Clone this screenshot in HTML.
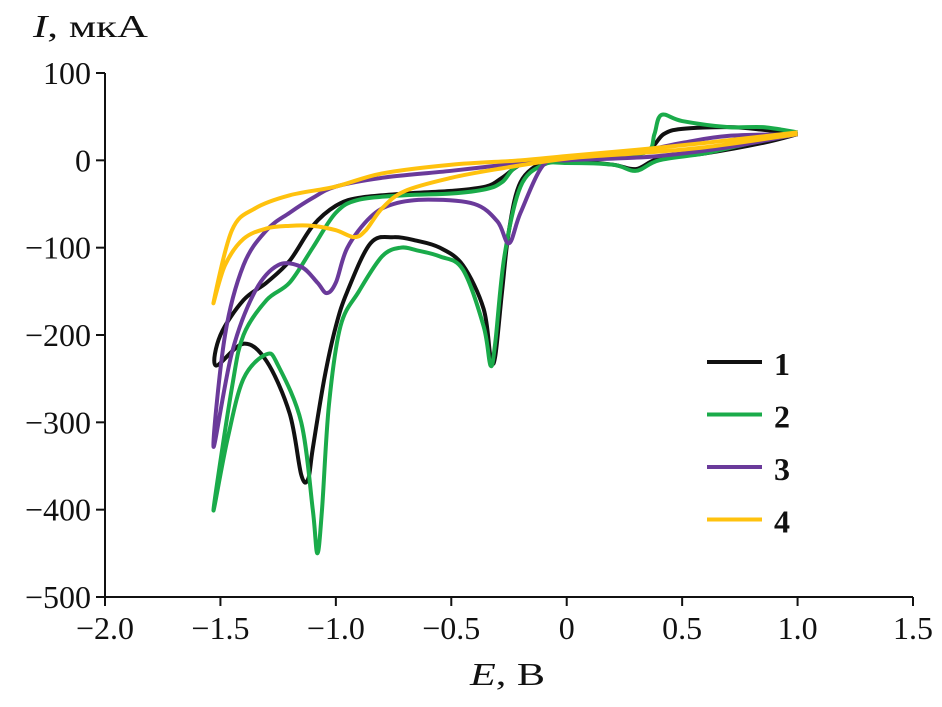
<!DOCTYPE html>
<html><head><meta charset="utf-8"><style>
body{margin:0;background:#fff}
svg text{font-family:"Liberation Serif",serif;font-size:32px;fill:#111}
</style></head><body>
<svg width="942" height="702">
<g id="axes"></g><g id="curves"></g><g id="legend"></g>
</svg>
<script>
const xTicks=[-2.0,-1.5,-1.0,-0.5,0,0.5,1.0,1.5];
const xTickLabels=["−2.0","−1.5","−1.0","−0.5","0","0.5","1.0","1.5"];
const yTicks=[100,0,-100,-200,-300,-400,-500];
const yTickLabels=["100","0","−100","−200","−300","−400","−500"];
const seriesNames=["1","2","3","4"];
const seriesColors=["#111111","#1aab4a","#6a3a9a","#ffc20e"];
const curve1=[[1.0,30],[0.85,20],[0.6,8],[0.4,2],[0.3,-10],[0.2,-5],[0.0,0],[-0.1,-2],[-0.2,-25],[-0.25,-80],[-0.28,-150],[-0.31,-225],[-0.33,-225],[-0.36,-170],[-0.45,-120],[-0.55,-100],[-0.65,-92],[-0.75,-88],[-0.85,-95],[-0.95,-150],[-1.0,-190],[-1.05,-250],[-1.1,-330],[-1.12,-365],[-1.15,-360],[-1.2,-290],[-1.3,-230],[-1.4,-210],[-1.52,-235],[-1.5,-200],[-1.4,-160],[-1.3,-140],[-1.2,-115],[-1.1,-75],[-1.0,-52],[-0.9,-43],[-0.7,-38],[-0.5,-35],[-0.35,-30],[-0.28,-20],[-0.2,-5],[-0.1,0],[0,3],[0.2,8],[0.35,12],[0.42,30],[0.5,36],[0.7,38],[0.85,35],[1.0,30]];
const curve2=[[1.0,32],[0.8,20],[0.6,8],[0.4,0],[0.3,-12],[0.2,-5],[0,-3],[-0.1,-5],[-0.2,-30],[-0.27,-110],[-0.31,-210],[-0.33,-235],[-0.36,-190],[-0.45,-125],[-0.55,-110],[-0.65,-103],[-0.72,-100],[-0.8,-110],[-0.9,-150],[-0.98,-190],[-1.03,-280],[-1.06,-400],[-1.08,-450],[-1.1,-400],[-1.15,-300],[-1.25,-235],[-1.3,-222],[-1.4,-250],[-1.47,-320],[-1.53,-400],[-1.45,-260],[-1.4,-200],[-1.3,-160],[-1.2,-140],[-1.1,-100],[-1.0,-60],[-0.9,-45],[-0.7,-40],[-0.5,-38],[-0.35,-33],[-0.28,-25],[-0.2,-5],[0,0],[0.2,5],[0.35,10],[0.38,30],[0.41,52],[0.5,45],[0.7,38],[0.85,38],[1.0,32]];
const curve3=[[1.0,30],[0.7,15],[0.4,5],[0.2,2],[0,0],[-0.1,-5],[-0.2,-60],[-0.25,-95],[-0.3,-70],[-0.4,-50],[-0.6,-45],[-0.75,-50],[-0.85,-65],[-0.95,-100],[-1.0,-140],[-1.04,-152],[-1.08,-140],[-1.15,-122],[-1.25,-120],[-1.35,-150],[-1.45,-220],[-1.53,-328],[-1.48,-200],[-1.4,-120],[-1.3,-80],[-1.2,-60],[-1.1,-43],[-1.0,-30],[-0.8,-20],[-0.5,-12],[-0.2,-3],[0,3],[0.3,10],[0.5,20],[0.7,28],[1.0,30]];
const curve4=[[1.0,30],[0.6,15],[0.3,8],[0,2],[-0.3,-10],[-0.5,-20],[-0.7,-35],[-0.8,-55],[-0.87,-80],[-0.92,-88],[-1.0,-80],[-1.1,-75],[-1.2,-75],[-1.3,-78],[-1.4,-90],[-1.48,-120],[-1.53,-163],[-1.45,-80],[-1.35,-55],[-1.2,-40],[-1.0,-30],[-0.8,-15],[-0.5,-5],[-0.2,0],[0,5],[0.3,12],[0.6,20],[1.0,32]];
const curves=[curve1,curve2,curve3,curve4];
const NS="http://www.w3.org/2000/svg";
const X0=105,X1=913,Y0=73,Y1=597;
const sx=v=>X0+(v+2)/3.5*(X1-X0);
const sy=v=>Y0+(100-v)/600*(Y1-Y0);
function mk(t,a,p){const e=document.createElementNS(NS,t);for(const k in a)e.setAttribute(k,a[k]);p.appendChild(e);return e;}
const ax=document.getElementById('axes');
let l=mk('line',{x1:X0,y1:Y0,x2:X0,y2:Y1,stroke:'#111','stroke-width':2},ax);


l=mk('line',{x1:X0,y1:Y1,x2:X1,y2:Y1,stroke:'#111','stroke-width':2},ax);


xTicks.forEach((v,i)=>{
 mk('line',{x1:sx(v),y1:Y1,x2:sx(v),y2:Y1+9,stroke:'#111','stroke-width':2},ax);
 const t=mk('text',{x:sx(v),y:Y1+42,'text-anchor':'middle'},ax);t.textContent=xTickLabels[i];
 
 
});
yTicks.forEach((v,i)=>{
 mk('line',{x1:X0-9,y1:sy(v),x2:X0,y2:sy(v),stroke:'#111','stroke-width':2},ax);
 const t=mk('text',{x:X0-14,y:sy(v)+11,'text-anchor':'end'},ax);t.textContent=yTickLabels[i];
 
 
});
let t=mk('text',{x:33,y:37,'font-size':39,textLength:115,lengthAdjust:'spacingAndGlyphs'},ax);t.innerHTML='<tspan font-style="italic">I</tspan>, мкА';


t=mk('text',{x:470,y:685,'font-size':39,textLength:75,lengthAdjust:'spacingAndGlyphs'},ax);t.innerHTML='<tspan font-style="italic">E</tspan>, В';


function smooth(pts){
 const p=pts.map(d=>[sx(d[0]),sy(d[1])]);let s='M'+p[0][0]+','+p[0][1];
 for(let i=0;i<p.length-1;i++){
  const a=p[Math.max(0,i-1)],b=p[i],c=p[i+1],d=p[Math.min(p.length-1,i+2)];
  s+=' C'+(b[0]+(c[0]-a[0])/6)+','+(b[1]+(c[1]-a[1])/6)+' '+(c[0]-(d[0]-b[0])/6)+','+(c[1]-(d[1]-b[1])/6)+' '+c[0]+','+c[1];
 }
 return s;
}
const cg=document.getElementById('curves');
curves.forEach((c,i)=>{
 const p=mk('path',{d:smooth(c),fill:'none',stroke:seriesColors[i],'stroke-width':4,'stroke-linejoin':'round'},cg);
 
 
});
const lg=document.getElementById('legend');
seriesNames.forEach((n,i)=>{
 const y=362+i*52.5;
 const g=mk('g',{},lg);
 
 
 mk('line',{x1:707,y1:y,x2:762,y2:y,stroke:seriesColors[i],'stroke-width':4},g);
 const tt=mk('text',{x:774,y:y+13,'font-weight':'bold','font-size':37},g);tt.textContent=n;
});
</script>
</body></html>
